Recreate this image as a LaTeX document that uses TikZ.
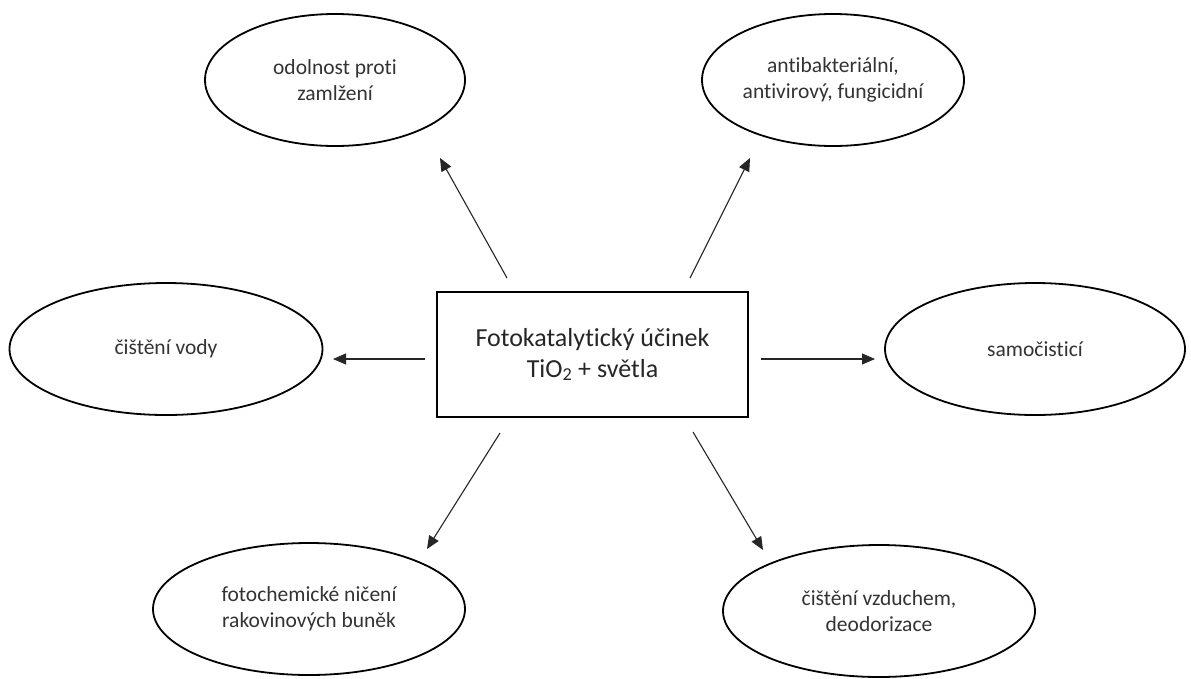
\documentclass[tikz,border=0pt]{standalone}
\usepackage{fontspec}
\setmainfont{Carlito}[Ligatures={NoCommon,NoContextual,NoRequired}]
\usetikzlibrary{shapes.geometric,arrows.meta}
\begin{document}
\begin{tikzpicture}[x=1pt,y=-1pt,
  oval/.style={ellipse,draw=black,line width=1.8pt,inner sep=0pt,
    minimum width=#1,minimum height=132pt,align=center,text=black!80,
    font=\fontsize{21.5}{26.5}\selectfont},
  center box/.style={rectangle,draw=black,line width=2pt,inner sep=0pt,
    minimum width=311pt,minimum height=125pt,align=center,text=black!85,
    font=\fontsize{26}{31}\selectfont},
  link/.style={draw=black!85,line width=1.1pt,-{Triangle[length=13pt,width=11pt]}}]
\useasboundingbox (0,0) rectangle (1191,678);
\fill[white] (0,0) rectangle (1191,678);

\node[center box] (c) at (592.5,354.5) {Fotokatalytický účinek\\TiO\textsubscript{2} + světla};

\node[oval=260pt] (e1) at (335,80) {odolnost proti\\zamlžení};
\node[oval=262pt] (e2) at (833,80) {antibakteriální,\\antivirový, fungicidní};
\node[oval=313pt] (e3) at (166,349) {čištění vody};
\node[oval=300pt] (e4) at (1035,349) {samočisticí};
\node[oval=312pt] (e5) at (309,609) {fotochemické ničení\\rakovinových buněk};
\node[oval=312pt] (e6) at (879,611) {čištění vzduchem,\\deodorizace};

\coordinate (s1) at (507,278);  \coordinate (t1) at (440,158);
\coordinate (s2) at (690,278);  \coordinate (t2) at (750,158);
\coordinate (s3) at (425,359);  \coordinate (t3) at (333,359);
\coordinate (s4) at (761,359);  \coordinate (t4) at (875,359);
\coordinate (s5) at (500,433);  \coordinate (t5) at (427,549);
\coordinate (s6) at (693,432);  \coordinate (t6) at (763,550);

\draw[link] (s1) -- (t1);
\draw[link] (s2) -- (t2);
\draw[link] (s3) -- (t3);
\draw[link] (s4) -- (t4);
\draw[link] (s5) -- (t5);
\draw[link] (s6) -- (t6);
\end{tikzpicture}
\end{document}
